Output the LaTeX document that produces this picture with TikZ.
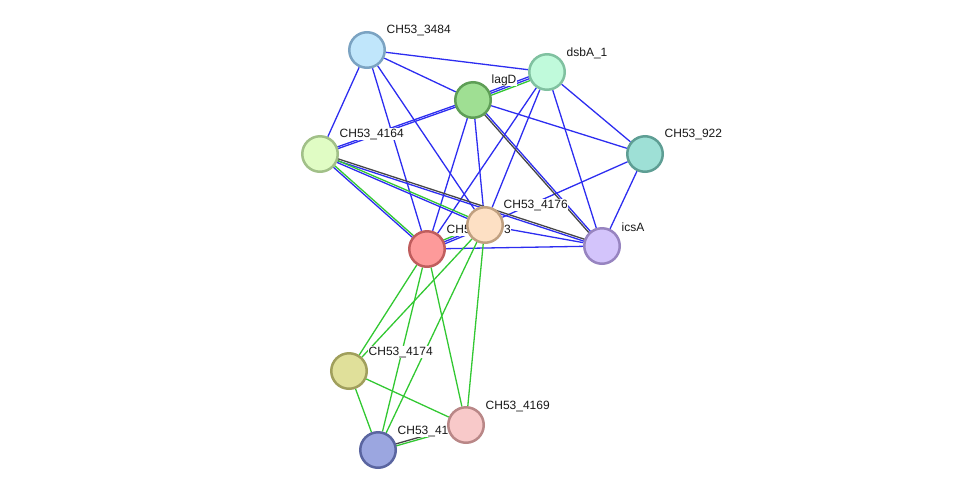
\documentclass[tikz,border=0pt]{standalone}
\usepackage{fontspec}
\setmainfont{Liberation Sans}
\usetikzlibrary{calc}

\definecolor{sblue}{RGB}{45,45,240}
\definecolor{sgreen}{RGB}{50,200,50}
\definecolor{sgray}{RGB}{70,70,70}

\pgfdeclarelayer{edges}
\pgfdeclarelayer{labels}
\pgfsetlayers{edges,labels,main}

\begin{document}
\begin{tikzpicture}[x=1pt,y=-1pt,
  prot/.style={circle,line width=2.5pt,minimum size=35.5pt,inner sep=0pt},
  lbl/.style={anchor=west,fill=white,inner sep=0.5pt,text=black!90,
    font=\fontsize{12}{14}\selectfont},
  edge/.style={line width=1.3pt}]
% parallel link helper: #1 = colour, #2 = side offset, #3 = from, #4 = to
\newcommand{\pline}[4]{%
  \draw[edge,#1] ($(#3.center)!#2!90:(#4.center)$) -- ($(#4.center)!#2!-90:(#3.center)$);
}
\useasboundingbox (0,0) rectangle (976,496);

% proteins (pixel positions)
\node[prot,draw={rgb,255:red,123;green,163;blue,194},fill={rgb,255:red,192;green,230;blue,251}] (n3484) at (367,50) {};
\node[prot,draw={rgb,255:red,128;green,193;blue,160},fill={rgb,255:red,192;green,250;blue,219}] (dsbA) at (547,72) {};
\node[prot,draw={rgb,255:red,94;green,158;blue,86},fill={rgb,255:red,159;green,223;blue,147}] (lagD) at (473,100) {};
\node[prot,draw={rgb,255:red,161;green,192;blue,136},fill={rgb,255:red,224;green,252;blue,196}] (n4164) at (320,154) {};
\node[prot,draw={rgb,255:red,94;green,158;blue,148},fill={rgb,255:red,158;green,224;blue,214}] (n922) at (645,154) {};
\node[prot,draw={rgb,255:red,192;green,160;blue,128},fill={rgb,255:red,253;green,224;blue,196}] (n4176) at (485,225) {};
\node[prot,draw={rgb,255:red,192;green,93;blue,93},fill={rgb,255:red,253;green,154;blue,154}] (n4173) at (427,249) {};
\node[prot,draw={rgb,255:red,151;green,132;blue,192},fill={rgb,255:red,211;green,196;blue,251}] (icsA) at (602,246) {};
\node[prot,draw={rgb,255:red,160;green,159;blue,92},fill={rgb,255:red,224;green,224;blue,154}] (n4174) at (349,371) {};
\node[prot,draw={rgb,255:red,185;green,135;blue,135},fill={rgb,255:red,248;green,201;blue,201}] (n4169) at (466,425) {};
\node[prot,draw={rgb,255:red,90;green,101;blue,160},fill={rgb,255:red,155;green,166;blue,224}] (n4172) at (378,450) {};

% names, under the circles
\begin{pgfonlayer}{labels}
\node[lbl] (t3484) at ($(n3484)+(19,-20)$) {CH53\_3484};
\node[lbl] (tdsbA) at ($(dsbA)+(19,-19)$) {dsbA\_1};
\node[lbl] (tlagD) at ($(lagD)+(18,-20)$) {lagD};
\node[lbl] (t4164) at ($(n4164)+(19,-20)$) {CH53\_4164};
\node[lbl] (t922) at ($(n922)+(19,-20)$) {CH53\_922};
\node[lbl] (t4176) at ($(n4176)+(18,-20)$) {CH53\_4176};
\node[lbl] (t4173) at ($(n4173)+(19,-19)$) {CH53\_4173};
\node[lbl] (ticsA) at ($(icsA)+(19,-19)$) {icsA};
\node[lbl] (t4174) at ($(n4174)+(19,-19)$) {CH53\_4174};
\node[lbl] (t4169) at ($(n4169)+(19,-19)$) {CH53\_4169};
\node[lbl] (t4172) at ($(n4172)+(19,-19)$) {CH53\_4172};
\end{pgfonlayer}

% links
\begin{pgfonlayer}{edges}
\foreach \a/\b in {n3484/dsbA,n3484/lagD,n3484/n4164,n3484/n4173,n3484/n4176,
    lagD/n922,lagD/n4173,lagD/n4176,dsbA/n922,dsbA/n4173,dsbA/n4176,dsbA/icsA,
    n922/n4176,n922/icsA,n4173/icsA,n4176/icsA}
  \draw[edge,sblue] (\a) -- (\b);
\foreach \a/\b in {n4173/n4174,n4173/n4169,n4173/n4172,n4176/n4174,n4176/n4172,
    n4176/n4169,n4174/n4169,n4174/n4172}
  \draw[edge,sgreen] (\a) -- (\b);
% multi-evidence links
\pline{sblue}{0.9pt}{lagD}{n4164}
\pline{sblue}{-0.9pt}{lagD}{n4164}
\pline{sgreen}{-2pt}{lagD}{dsbA}
\pline{sblue}{0pt}{lagD}{dsbA}
\pline{sblue}{2pt}{lagD}{dsbA}
\pline{sgray}{-1pt}{lagD}{icsA}
\pline{sblue}{1pt}{lagD}{icsA}
\pline{sgray}{1pt}{n4164}{icsA}
\pline{sblue}{-1pt}{n4164}{icsA}
\pline{sgreen}{1pt}{n4164}{n4176}
\pline{sblue}{-1pt}{n4164}{n4176}
\pline{sgreen}{1pt}{n4164}{n4173}
\pline{sblue}{-1pt}{n4164}{n4173}
\pline{sgreen}{2pt}{n4173}{n4176}
\pline{sblue}{0pt}{n4173}{n4176}
\pline{sblue}{-2pt}{n4173}{n4176}
\pline{sgray}{1pt}{n4172}{n4169}
\pline{sgreen}{-1pt}{n4172}{n4169}
\end{pgfonlayer}
\end{tikzpicture}
\end{document}
